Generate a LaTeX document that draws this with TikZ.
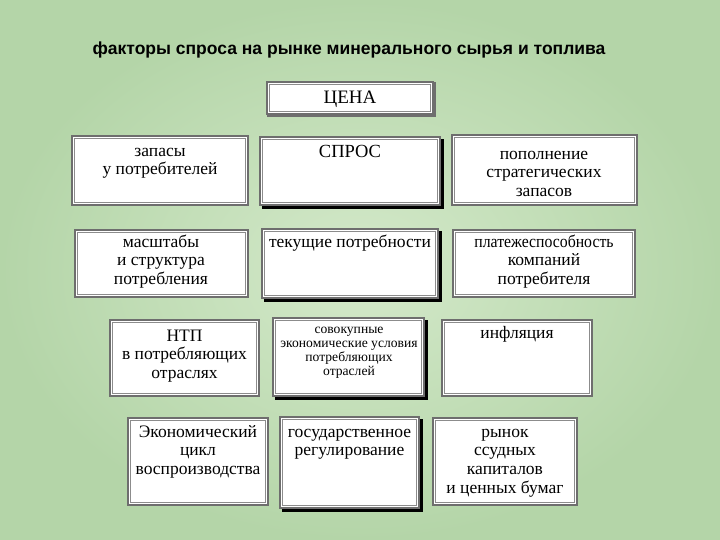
\documentclass[tikz,border=0pt]{standalone}
\usepackage{fontspec}
\setmainfont{Liberation Serif}
\newfontfamily\titlefont{Liberation Sans}
\definecolor{bgA}{RGB}{180,213,168}
\definecolor{bgB}{RGB}{212,233,202}
\definecolor{boxgray}{RGB}{110,110,110}
\definecolor{innergray}{RGB}{140,140,140}
\tikzset{
  boxnode/.style={fill=white, draw=boxgray, line width=1.2pt, inner sep=0pt},
  innerline/.style={draw=innergray, line width=0.8pt},
  shadowline/.style={draw=black, line width=3pt},
  txt/.style={font=\fontsize{17.5}{18.7}\selectfont, align=center, inner sep=0pt, anchor=north},
  smalltxt/.style={font=\fontsize{13.6}{14}\selectfont, align=center, inner sep=0pt, anchor=north},
  titletxt/.style={font=\titlefont\bfseries\fontsize{17.5}{19}\selectfont, inner sep=0pt, anchor=base},
}
\newcommand\mybox[5]{%
  \node[boxnode, minimum width={#4-#2}, minimum height={#5-#3}] (#1) at ({(#2+#4)/2},{(#3+#5)/2}) {};
  \draw[innerline] ([shift={(3,3)}]#1.north west) rectangle ([shift={(-3,-3)}]#1.south east);
}
\newcommand\myshadow[1]{%
  \draw[shadowline] ([shift={(2,3)}]#1.north east) -- ([shift={(2,2)}]#1.south east) -- ([shift={(3,2)}]#1.south west);
}
\begin{document}
\begin{tikzpicture}[x=1pt,y=-1pt]
\useasboundingbox (0,0) rectangle (720,540);
\fill[bgA] (0,0) rectangle (720,540);
\shade[inner color=bgB, outer color=bgA] (0,0) rectangle (720,540);

\node[titletxt] (title) at (349,55) {факторы спроса на рынке минерального сырья и топлива};

\mybox{cena}{267}{82}{433}{114}
\draw[boxgray, line width=2pt] ([shift={(1,1)}]cena.north east) -- ([shift={(1,1)}]cena.south east) -- ([shift={(1,1)}]cena.south west);
\node[txt, font=\fontsize{19}{20}\selectfont] (cena-t) at (350,89) {\strut ЦЕНА};

\mybox{b11}{72}{136}{248}{205}
\node[txt] (b11-t) at (160,143) {\strut запасы\\у потребителей};
\mybox{b12}{260}{137}{440}{205}
\myshadow{b12}
\node[txt, font=\fontsize{18.5}{19}\selectfont] (b12-t) at (350,144) {\strut СПРОС};
\mybox{b13}{452}{135}{637}{205}
\node[txt] (b13-t) at (544,146) {\strut пополнение\\стратегических\\запасов};

\mybox{b21}{75}{230}{248}{297}
\node[txt] (b21-t) at (161,234) {\strut масштабы\\и структура\\потребления};
\mybox{b22}{262}{229}{438}{298}
\myshadow{b22}
\node[txt] (b22-t) at (350,234) {\strut текущие потребности};
\mybox{b23}{453}{230}{635}{297}
\node[txt] (b23-t) at (544,234) {\strut \scalebox{0.9}[1]{платежеспособность}\\компаний\\потребителя};

\mybox{b31}{110}{320}{259}{396}
\node[txt] (b31-t) at (184.5,328) {\strut НТП\\в потребляющих\\отраслях};
\mybox{b32}{273}{318}{424}{396}
\myshadow{b32}
\node[smalltxt] (b32-t) at (349,323) {\strut совокупные\\экономические условия\\потребляющих\\отраслей};
\mybox{b33}{442}{320}{592}{396}
\node[txt] (b33-t) at (517,325) {\strut инфляция};

\mybox{b41}{128}{418}{268}{505}
\node[txt] (b41-t) at (198,424) {\strut Экономический\\цикл\\воспроизводства};
\mybox{b42}{280}{417}{419}{508}
\myshadow{b42}
\node[txt] (b42-t) at (349.5,424) {\strut государственное\\регулирование};
\mybox{b43}{433}{418}{577}{505}
\node[txt] (b43-t) at (505,424) {\strut рынок\\ссудных\\капиталов\\и ценных бумаг};
\end{tikzpicture}
\end{document}
